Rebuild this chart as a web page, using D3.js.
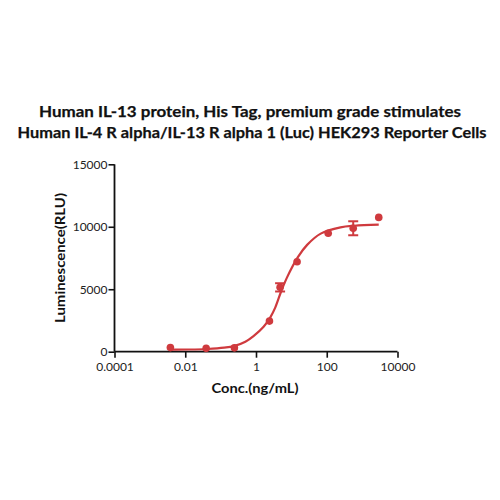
<!DOCTYPE html>
<html><head><meta charset="utf-8">
<script src="https://cdn.jsdelivr.net/npm/d3@7"></script>
<style>body{margin:0;background:#fff}svg{display:block}</style>
</head><body>
<svg id="c" width="500" height="500"></svg>
<script>
const titleLines = ["Human IL-13 protein, His Tag, premium grade stimulates",
                    "Human IL-4 R alpha/IL-13 R alpha 1 (Luc) HEK293 Reporter Cells"];
const xLabel = "Conc.(ng/mL)";
const yLabel = "Luminescence(RLU)";
const xTicks = [0.0001, 0.01, 1, 100, 10000];
const xTickLabels = ["0.0001", "0.01", "1", "100", "10000"];
const yTicks = [0, 5000, 10000, 15000];
// measured points
const conc   = [0.0038, 0.039, 0.245, 2.4, 4.8, 14.5, 110, 560, 2950];
const lum    = [330, 270, 310, 2450, 5150, 7200, 9480, 9880, 10750];
const errSD  = [0, 0, 0, 0, 330, 0, 0, 560, 0];
// fitted curve
const curveConc = [0.0038, 0.0126, 0.042, 0.126, 0.25, 0.5, 0.85, 1.64, 2.54, 3.52, 5.1, 7.55, 15.1, 27.9, 67.6, 245, 600, 2950];
const curveLum  = [170, 175, 215, 320, 470, 800, 1250, 2000, 2750, 3550, 4800, 5950, 7550, 8550, 9450, 9950, 10080, 10170];

const svg = d3.select("#c");
const red = "#cf3a3e";
const x = d3.scaleLog().domain([0.0001, 10000]).range([114.5, 397.5]);
const y = d3.scaleLinear().domain([0, 15000]).range([351.7, 164.3]);

const font = "Lato, 'Open Sans', sans-serif";

// title
const tsizes = [[250, 112, 422], [252, 133, 469]];
titleLines.forEach((t, i) => {
  svg.append("text").attr("x", tsizes[i][0]).attr("y", tsizes[i][1] + 5)
    .attr("text-anchor", "middle").attr("font-family", font).attr("font-weight", "bold")
    .attr("font-size", 16).attr("fill", "#111").attr("stroke", "#111").attr("stroke-width", 0.25)
    .attr("textLength", tsizes[i][2]).attr("lengthAdjust", "spacingAndGlyphs").text(t);
});

// axes
const xAxis = d3.axisBottom(x).tickValues(xTicks).tickFormat((d, i) => xTickLabels[i]).tickSize(6).tickPadding(3);
const gx = svg.append("g").attr("transform", `translate(0,${y(0)})`).call(xAxis);
const yAxis = d3.axisLeft(y).tickValues(yTicks).tickFormat(d3.format("d")).tickSize(6).tickPadding(1);
const gy = svg.append("g").attr("transform", `translate(${x(0.0001)},0)`).call(yAxis);
[gx, gy].forEach(g => {
  g.select(".domain").attr("stroke", "#111").attr("stroke-width", 1.8);
  g.selectAll(".tick line").attr("stroke", "#111").attr("stroke-width", 1.6);
  g.selectAll(".tick text").attr("font-family", font).attr("font-size", 12).attr("fill", "#222");
});
gx.select(".domain").attr("d", `M${x(0.0001)},0H${x(10000)}`);
gy.select(".domain").attr("d", `M0,${y(0)}V${y(15000)}`);
gx.selectAll(".tick text").attr("dy", "0.9em");

// axis labels
svg.append("text").attr("x", 255).attr("y", 393).attr("text-anchor", "middle")
  .attr("font-family", font).attr("font-weight", "bold").attr("font-size", 13.5).attr("fill", "#111")
  .attr("textLength", 87).attr("lengthAdjust", "spacingAndGlyphs").text(xLabel);
svg.append("text").attr("transform", "translate(65,258) rotate(-90)").attr("text-anchor", "middle")
  .attr("font-family", font).attr("font-weight", "bold").attr("font-size", 13.5).attr("fill", "#111")
  .attr("textLength", 130).attr("lengthAdjust", "spacingAndGlyphs").text(yLabel);

// curve
const line = d3.line().x(d => x(d[0])).y(d => y(d[1])).curve(d3.curveCatmullRom.alpha(0.5));
svg.append("path").datum(curveConc.map((c, i) => [c, curveLum[i]]))
  .attr("d", line).attr("fill", "none").attr("stroke", red).attr("stroke-width", 2.2);

// error bars
const pts = conc.map((c, i) => ({c, v: lum[i], e: errSD[i]}));
const eb = svg.append("g").selectAll("g").data(pts.filter(d => d.e > 0)).join("g");
eb.append("line").attr("x1", d => x(d.c)).attr("x2", d => x(d.c))
  .attr("y1", d => y(d.v - d.e)).attr("y2", d => y(d.v + d.e)).attr("stroke", red).attr("stroke-width", 2);
[-1, 1].forEach(s => {
  eb.append("line").attr("x1", d => x(d.c) - 5).attr("x2", d => x(d.c) + 5)
    .attr("y1", d => y(d.v + s * d.e)).attr("y2", d => y(d.v + s * d.e)).attr("stroke", red).attr("stroke-width", 2);
});

// points
svg.append("g").selectAll("circle").data(pts).join("circle")
  .attr("cx", d => x(d.c)).attr("cy", d => y(d.v)).attr("r", 3.8).attr("fill", red);
</script>
</body></html>
